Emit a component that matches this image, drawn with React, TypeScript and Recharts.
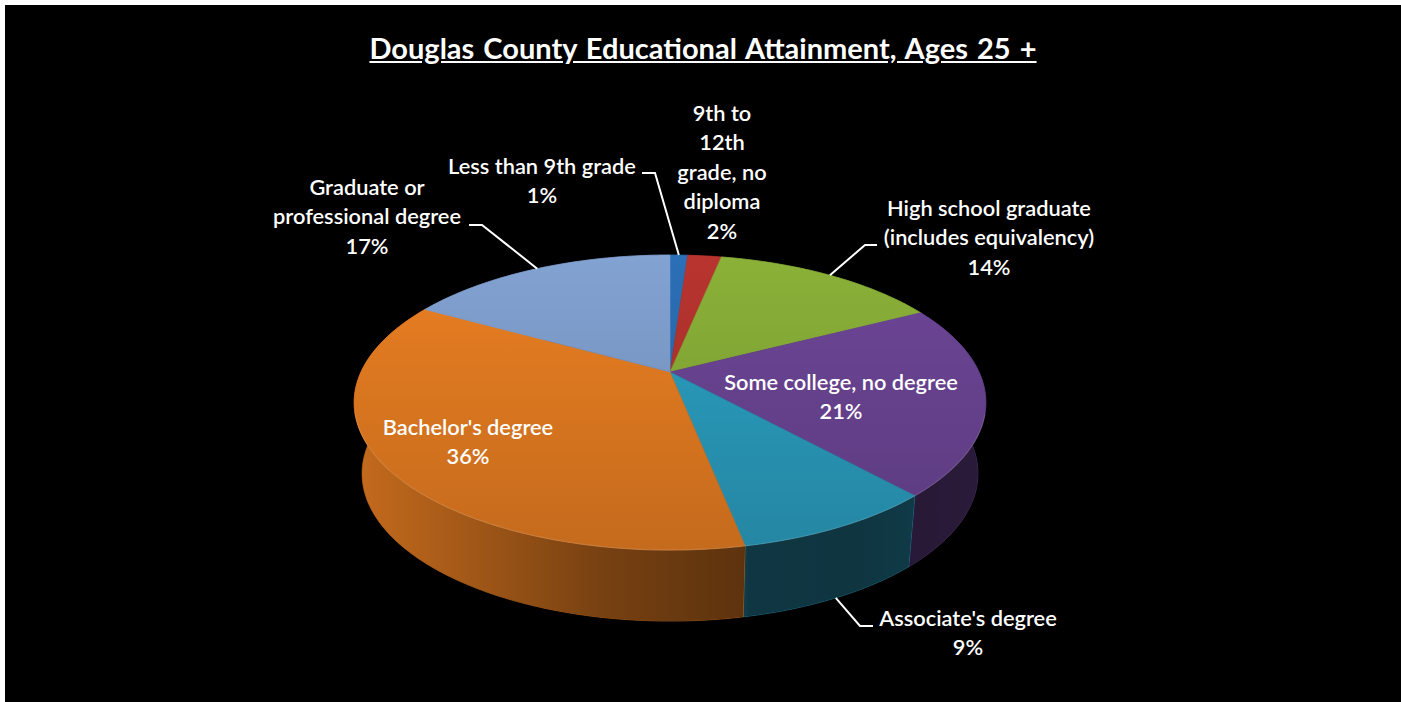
import { Pie, PieChart } from "recharts"

const categories = [
  "Less than 9th grade",
  "9th to 12th grade, no diploma",
  "High school graduate (includes equivalency)",
  "Some college, no degree",
  "Associate's degree",
  "Bachelor's degree",
  "Graduate or professional degree",
]
// shares estimated from the slice edges, printed labels are these rounded
const values = [1.1, 2.1, 14.2, 20.9, 8.6, 36.2, 16.9]
const colors = ["#2b6fb6", "#b8342f", "#8bb138", "#6d4697", "#2ba0c2", "#ea7f22", "#82a2d2"]
const wrappedNames = [
  ["Less than 9th grade"],
  ["9th to", "12th", "grade, no", "diploma"],
  ["High school graduate", "(includes equivalency)"],
  ["Some college, no degree"],
  ["Associate's degree"],
  ["Bachelor's degree"],
  ["Graduate or", "professional degree"],
]

const chartData = categories.map((name, i) => ({ name, value: values[i], fill: colors[i] }))

const CX = 670
const CY = 372
const RADIUS = 309
const TILT = 0.457
const PERSPECTIVE = 0.207
const DEPTH = 71
const BASE_SHRINK = 0.975
const LINE_HEIGHT = 29.4
const FONT = "Lato, 'Open Sans', sans-serif"

// label placement: x = text centre, y = first baseline, leader = elbow points
const labelLayout = [
  { x: 542, y: 174, leader: [[655, 173], [642, 173]] },
  { x: 722, y: 121 },
  { x: 989, y: 216, leader: [[865, 245], [877, 245]] },
  { x: 841, y: 390 },
  { x: 968, y: 626, leader: [[860, 626], [873, 626]], onBase: true },
  { x: 468, y: 435 },
  { x: 367, y: 195, leader: [[482, 225], [469, 225]] },
]

// pie angle -> point on the tilted rim
function rimPoint(angle: number, cx: number, cy: number, r: number) {
  const t = ((90 - angle) * Math.PI) / 180
  const sx = Math.sin(t)
  const sy = Math.cos(t)
  const d = 1 + PERSPECTIVE * sy
  return [cx + (r * sx) / d, cy - (r * TILT * sy) / d]
}

function basePoint(angle: number, cx: number, cy: number, r: number) {
  const [x, y] = rimPoint(angle, cx, cy, r)
  return [cx + (x - cx) * BASE_SHRINK, y + DEPTH]
}

function sampleAngles(start: number, end: number) {
  const steps = Math.max(2, Math.ceil(Math.abs(end - start)))
  return Array.from({ length: steps + 1 }, (_, i) => start + ((end - start) * i) / steps)
}

function toLine(points: number[][]) {
  return points.map((p, i) => `${i === 0 ? "M" : "L"}${p[0].toFixed(2)},${p[1].toFixed(2)}`).join(" ")
}

function TopSector(props: any) {
  const { cx, cy, outerRadius, startAngle, endAngle, fill } = props
  const rim = sampleAngles(startAngle, endAngle).map((a) => rimPoint(a, cx, cy, outerRadius))
  const d = toLine([[cx, cy], ...rim]) + " Z"
  // thin bright edge where the top meets the front wall
  const frontRim = rim.filter((p) => p[1] > cy + 40)
  return (
    <g>
      <path d={d} fill={fill} stroke={fill} strokeWidth={0.5} />
      <path d={d} fill="url(#topShade)" />
      {frontRim.length > 1 && (
        <path d={toLine(frontRim)} fill="none" stroke="#ffffff" strokeOpacity={0.14} strokeWidth={1.2} />
      )}
    </g>
  )
}

function SideSector(props: any) {
  const { cx, cy, outerRadius, startAngle, endAngle, fill } = props
  const angles = sampleAngles(startAngle, endAngle)
  const top = angles.map((a) => rimPoint(a, cx, cy, outerRadius))
  const bottom = angles.map((a) => basePoint(a, cx, cy, outerRadius)).reverse()
  const d = toLine([...top, ...bottom]) + " Z"
  return (
    <g>
      <path d={d} fill={fill} stroke={fill} strokeWidth={0.5} />
      <path d={d} fill="url(#sideShade)" />
    </g>
  )
}

function renderLabel(props: any) {
  const { index, cx, cy, outerRadius, startAngle, endAngle, percent } = props
  const layout = labelLayout[index]
  const mid = (startAngle + endAngle) / 2
  const anchor = layout.onBase ? basePoint(mid, cx, cy, outerRadius) : rimPoint(mid, cx, cy, outerRadius)
  const lines = [...wrappedNames[index], `${Math.round(percent * 100)}%`]
  return (
    <g key={categories[index]}>
      {layout.leader && (
        <polyline
          points={[anchor, ...layout.leader].map((p) => p.join(",")).join(" ")}
          fill="none"
          stroke="#ffffff"
          strokeWidth={2}
        />
      )}
      <text
        x={layout.x}
        y={layout.y}
        textAnchor="middle"
        fill="#ffffff"
        fontFamily={FONT}
        fontSize={21.8}
        fontWeight={600}
      >
        {lines.map((line, i) => (
          <tspan key={line} x={layout.x} y={layout.y + i * LINE_HEIGHT}>
            {line}
          </tspan>
        ))}
      </text>
    </g>
  )
}

export default function App() {
  return (
    <div style={{ position: "absolute", left: 0, top: 0, width: 1401, height: 702, background: "#fff" }}>
      <div style={{ position: "absolute", left: 5, top: 5, width: 1396, height: 697, background: "#000" }} />
      <div
        style={{
          position: "absolute",
          left: 0,
          top: 28,
          width: 1406,
          textAlign: "center",
          color: "#fff",
          fontFamily: FONT,
          fontSize: 29,
          fontWeight: 700,
          textDecoration: "underline",
          wordSpacing: 2,
          lineHeight: "40px",
        }}
      >
        Douglas County Educational Attainment, Ages 25 +
      </div>
      <div style={{ position: "absolute", left: 0, top: 0 }}>
        <PieChart width={1401} height={702} margin={{ top: 0, right: 0, bottom: 0, left: 0 }}>
          <defs>
            <linearGradient id="topShade" gradientUnits="userSpaceOnUse" x1={0} y1={255} x2={0} y2={550}>
              <stop offset="0" stopColor="#000" stopOpacity={0} />
              <stop offset="1" stopColor="#000" stopOpacity={0.16} />
            </linearGradient>
            <linearGradient id="sideShade" gradientUnits="userSpaceOnUse" x1={354} y1={0} x2={986} y2={0}>
              <stop offset="0" stopColor="#000" stopOpacity={0.16} />
              <stop offset="0.15" stopColor="#000" stopOpacity={0.28} />
              <stop offset="0.39" stopColor="#000" stopOpacity={0.49} />
              <stop offset="0.615" stopColor="#000" stopOpacity={0.6} />
              <stop offset="0.625" stopColor="#000" stopOpacity={0.66} />
              <stop offset="0.79" stopColor="#000" stopOpacity={0.67} />
              <stop offset="0.88" stopColor="#000" stopOpacity={0.64} />
              <stop offset="1" stopColor="#000" stopOpacity={0.62} />
            </linearGradient>
          </defs>
          <Pie
            data={chartData}
            dataKey="value"
            nameKey="name"
            cx={CX}
            cy={CY}
            innerRadius={0}
            outerRadius={RADIUS}
            startAngle={90}
            endAngle={-270}
            stroke="none"
            shape={SideSector}
            isAnimationActive={false}
          />
          <Pie
            data={chartData}
            dataKey="value"
            nameKey="name"
            cx={CX}
            cy={CY}
            innerRadius={0}
            outerRadius={RADIUS}
            startAngle={90}
            endAngle={-270}
            stroke="none"
            shape={TopSector}
            label={renderLabel}
            labelLine={false}
            isAnimationActive={false}
          />
        </PieChart>
      </div>
    </div>
  )
}
